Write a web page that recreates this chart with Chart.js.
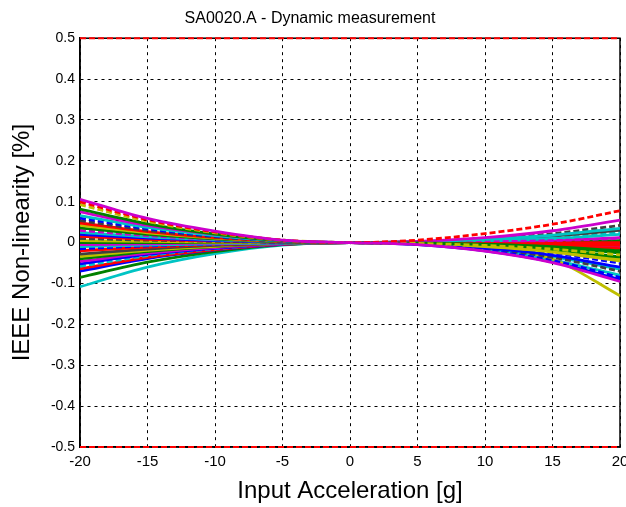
<!DOCTYPE html>
<html>
<head>
<meta charset="utf-8">
<script src="https://cdn.jsdelivr.net/npm/chart.js@4/dist/chart.umd.min.js"></script>
<style>
  html, body { margin: 0; padding: 0; background: #fff; }
  #wrap { width: 626px; height: 507px; }
</style>
</head>
<body>
<div id="wrap"><canvas id="chart"></canvas></div>
<script>
// ===== DATA =====
const xValues = [-20, -15, -10, -5, 0, 5, 10, 15, 20];
const xTicks = [-20, -15, -10, -5, 0, 5, 10, 15, 20];
const yTicks = [-0.5, -0.4, -0.3, -0.2, -0.1, 0, 0.1, 0.2, 0.3, 0.4, 0.5];
const limitX = [-20, 20];
const upperLimit = [0.5, 0.5];
const lowerLimit = [-0.5, -0.5];

// one row per measured curve, values at xValues
const s01 = [0.106, 0.059, 0.028, 0.006, 0, -0.005, -0.021, -0.049, -0.095];
const s02 = [0.100, 0.056, 0.026, 0.006, 0, 0.006, 0.022, 0.045, 0.078];
const s03 = [0.093, 0.052, 0.024, 0.006, 0, -0.002, -0.007, -0.016, -0.030];
const s04 = [0.082, 0.046, 0.021, 0.005, 0, -0.001, -0.004, -0.010, -0.020];
const s05 = [0.075, 0.042, 0.020, 0.005, 0, 0.003, 0.012, 0.029, 0.055];
const s06 = [0.066, 0.037, 0.017, 0.004, 0, 0.002, 0.008, 0.018, 0.035];
const s07 = [0.060, 0.034, 0.016, 0.004, 0, -0.004, -0.019, -0.044, -0.085];
const s08 = [0.054, 0.030, 0.014, 0.003, 0, 0.002, 0.009, 0.022, 0.042];
const s09 = [0.048, 0.027, 0.012, 0.003, 0, 0.000, -0.002, -0.004, -0.007];
const s10 = [0.042, 0.024, 0.011, 0.003, 0, -0.002, -0.010, -0.023, -0.045];
const s11 = [0.036, 0.020, 0.009, 0.002, 0, -0.001, -0.006, -0.013, -0.025];
const s12 = [0.030, 0.017, 0.008, 0.002, 0, 0.001, 0.002, 0.005, 0.010];
const s13 = [0.025, 0.014, 0.007, 0.002, 0, 0.001, 0.004, 0.010, 0.020];
const s14 = [0.020, 0.011, 0.005, 0.001, 0, -0.003, -0.013, -0.031, -0.060];
const s15 = [0.015, 0.008, 0.004, 0.001, 0, -0.001, -0.003, -0.008, -0.015];
const s16 = [0.010, 0.006, 0.003, 0.001, 0, -0.004, -0.015, -0.036, -0.070];
const s17 = [0.005, 0.003, 0.001, 0.000, 0, -0.001, -0.010, -0.040, -0.130];
const s18 = [0.000, 0.000, 0.000, 0.000, 0, -0.002, -0.008, -0.018, -0.035];
const s19 = [-0.005, -0.003, -0.001, 0.000, 0, 0.001, 0.003, 0.006, 0.012];
const s20 = [-0.010, -0.006, -0.003, -0.001, 0, -0.004, -0.018, -0.042, -0.080];
const s21 = [-0.015, -0.008, -0.004, -0.001, 0, -0.003, -0.011, -0.026, -0.050];
const s22 = [-0.020, -0.011, -0.005, -0.001, 0, 0.000, 0.000, 0.000, 0.000];
const s23 = [-0.028, -0.016, -0.007, -0.002, 0, 0.002, 0.007, 0.016, 0.030];
const s24 = [-0.034, -0.019, -0.009, -0.002, 0, -0.002, -0.009, -0.021, -0.040];
const s25 = [-0.040, -0.022, -0.010, -0.002, 0, 0.000, 0.001, 0.003, 0.005];
const s26 = [-0.046, -0.026, -0.012, -0.003, 0, -0.001, -0.002, -0.005, -0.010];
const s27 = [-0.052, -0.029, -0.014, -0.003, 0, -0.005, -0.020, -0.047, -0.090];
const s28 = [-0.058, -0.032, -0.015, -0.003, 0, 0.001, 0.006, 0.013, 0.025];
const s29 = [-0.064, -0.036, -0.017, -0.004, 0, -0.001, -0.004, -0.010, -0.020];
const s30 = [-0.070, -0.039, -0.018, -0.004, 0, -0.002, -0.009, -0.021, -0.040];
const s31 = [-0.085, -0.048, -0.022, -0.005, 0, -0.001, -0.002, -0.005, -0.010];
const s32 = [-0.108, -0.060, -0.027, -0.006, 0, -0.003, -0.014, -0.034, -0.065];

// [colour key, dashed, values]
const curves = [
  ['m', false, s01], ['r', true, s02], ['y', true, s03], ['g', false, s04],
  ['m', false, s05], ['c', false, s06], ['b', true, s07], ['k', true, s08],
  ['r', false, s09], ['y', false, s10], ['g', false, s11], ['m', true, s12],
  ['c', false, s13], ['b', false, s14], ['r', false, s15], ['k', true, s16],
  ['y', false, s17], ['g', false, s18], ['m', false, s19], ['c', false, s20],
  ['b', true, s21], ['r', false, s22], ['k', false, s23], ['y', false, s24],
  ['g', false, s25], ['m', false, s26], ['b', false, s27], ['c', true, s28],
  ['r', false, s29], ['b', false, s30], ['g', false, s31], ['c', false, s32]
];

const colors = {
  b: '#0000ff', g: '#008000', r: '#ff0000', c: '#00c4c4',
  m: '#cc00cc', y: '#bfbf00', k: '#404040'
};

// ===== CHART =====
const datasets = curves.map(([key, dashed, vals]) => ({
  data: xValues.map((x, i) => ({ x: x, y: vals[i] })),
  borderColor: colors[key],
  borderWidth: 2.8,
  borderDash: dashed ? [6, 3] : [],
  pointRadius: 0,
  cubicInterpolationMode: 'monotone',
  fill: false
}));

// red limit lines
datasets.unshift(
  { data: limitX.map((x, i) => ({ x: x, y: upperLimit[i] })), borderColor: '#ff0000', borderWidth: 2, borderDash: [6, 3], pointRadius: 0, clip: 4 },
  { data: limitX.map((x, i) => ({ x: x, y: lowerLimit[i] })), borderColor: '#ff0000', borderWidth: 2, borderDash: [6, 3], pointRadius: 0, clip: 4 }
);

const boxPlugin = {
  id: 'box',
  beforeDatasetsDraw(chart) {
    const { ctx, chartArea: a } = chart;
    ctx.save();
    ctx.strokeStyle = '#000';
    ctx.lineWidth = 1.5;
    ctx.strokeRect(a.left, a.top, a.right - a.left, a.bottom - a.top);
    ctx.restore();
  }
};

const font = 'Liberation Sans, Arial, sans-serif';

new Chart(document.getElementById('chart'), {
  type: 'line',
  data: { datasets },
  plugins: [boxPlugin],
  options: {
    responsive: true,
    maintainAspectRatio: false,
    animation: false,
    layout: { padding: { left: 0, right: 6, top: 0, bottom: 0 } },
    plugins: {
      legend: { display: false },
      tooltip: { enabled: false },
      title: {
        display: true,
        text: 'SA0020.A - Dynamic measurement',
        color: '#000',
        font: { family: font, size: 16, weight: 'normal' },
        padding: { top: 9, bottom: 10 }
      }
    },
    scales: {
      x: {
        type: 'linear',
        min: -20, max: 20,
        afterBuildTicks: s => { s.ticks = xTicks.map(v => ({ value: v })); },
        afterFit: s => { s.height = 60; s.paddingLeft = 0; s.paddingRight = 0; },
        ticks: { color: '#000', font: { family: font, size: 15 }, padding: 6, maxRotation: 0 },
        grid: { color: '#000', lineWidth: 1, drawTicks: false },
        border: { color: '#000', width: 1.5, dash: [3, 4] },
        title: {
          display: true, text: 'Input Acceleration [g]', color: '#000',
          font: { family: font, size: 24 }, padding: { top: 0, bottom: 1 }
        }
      },
      y: {
        min: -0.5, max: 0.5,
        afterBuildTicks: s => { s.ticks = yTicks.map(v => ({ value: v })); },
        afterFit: s => { s.width = 80; },
        ticks: {
          color: '#000', font: { family: font, size: 14 }, padding: 5,
          callback: v => String(Math.round(v * 10) / 10)
        },
        grid: { color: '#000', lineWidth: 1, drawTicks: false },
        border: { color: '#000', width: 1.5, dash: [3, 4] },
        title: {
          display: true, text: 'IEEE Non-linearity [%]', color: '#000',
          font: { family: font, size: 24 }, padding: { top: 8, bottom: 0 }
        }
      }
    }
  }
});
</script>
</body>
</html>
